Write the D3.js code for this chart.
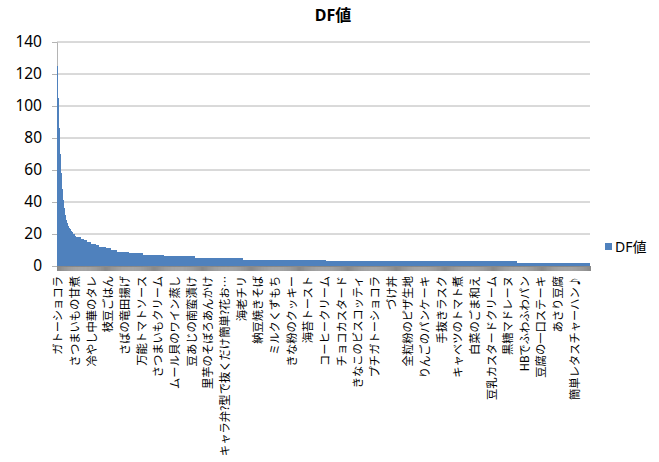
<!DOCTYPE html>
<html>
<head>
<meta charset="utf-8">
<script src="https://cdn.jsdelivr.net/npm/d3@7"></script>
<style>
  body { margin: 0; background: #fff; }
  #main { width: 659px; height: 462px; }
  text { font-family: "Noto Sans", "Noto Sans CJK JP", sans-serif; }
  .xlab text { font-family: "Noto Sans CJK JP", sans-serif; }
</style>
</head>
<body>
<div id="main"></div>
<script>
"use strict";

// DF values, sorted descending, as runs of equal value (level, number of recipes)
var dfLevels = [125, 105, 86, 70, 58, 48, 41, 36, 32, 29, 27, 25, 24, 23, 22, 21, 20, 19,
                18, 17, 16, 15, 14, 13, 12, 11, 10, 9, 8, 7, 6, 5, 4, 3, 2];
var dfCounts = [1, 1, 1, 1, 1, 1, 1, 1, 1, 1, 1, 1, 1, 1, 1, 1, 2, 1,
                5, 3, 3, 4, 5, 3, 8, 5, 6, 12, 14, 22, 31, 49, 85, 195, 75];

// category labels shown on the x axis (one every labelStep recipes)
var labelStep = 17;
var xLabels = ["ガトーショコラ", "さつまいもの甘煮", "冷やし中華のタレ", "枝豆ごはん",
    "さばの竜田揚げ", "万能トマトソース", "さつまいもクリーム", "ムール貝のワイン蒸し",
    "豆あじの南蛮漬け", "里芋のそぼろあんかけ", "キャラ弁?型で抜くだけ簡単?花お…", "海老チリ",
    "納豆焼きそば", "ミルクくずもち", "きな粉のクッキー", "海苔トースト",
    "コーヒークリーム", "チョコカスタード", "きなこのビスコッティ", "プチガトーショコラ",
    "づけ丼", "全粒粉のピザ生地", "りんごのパンケーキ", "手抜きラスク",
    "キャベツのトマト煮", "白菜のごま和え", "豆乳カスタードクリーム", "黒糖マドレーヌ",
    "HBでふわふわパン", "豆腐の一口ステーキ", "あさり豆腐", "簡単レタスチャーハン♪"];
var yTicks = [0, 20, 40, 60, 80, 100, 120, 140];
var seriesName = "DF値";

var runStarts = [0].concat(Array.from(d3.cumsum(dfCounts)));
var runs = dfLevels.map(function(v, i){
    return {value: v, start: runStarts[i], count: dfCounts[i]};
});
var total = runStarts[runStarts.length - 1];

var width = 659, height = 462;
var svg = d3.select("#main").append("svg")
    .attr("width", width).attr("height", height);

var x = d3.scaleLinear().domain([0, total]).range([57, 590]);
var y = d3.scaleLinear().domain([0, 140]).range([266, 42]);

// title
svg.append("text")
    .attr("x", 333).attr("y", 21)
    .attr("text-anchor", "middle")
    .style("font-size", "16px").style("font-weight", "bold")
    .text(seriesName);

// gridlines
svg.append("g").selectAll("line").data(yTicks.slice(1)).join("line")
    .attr("x1", x(0)).attr("x2", x(total))
    .attr("y1", function(d){ return y(d); }).attr("y2", function(d){ return y(d); })
    .attr("stroke", "#b4b4b4").attr("stroke-width", 1);

// y axis
var yAxis = svg.append("g")
    .attr("transform", "translate(" + x(0) + ",0)")
    .call(d3.axisLeft(y).tickValues(yTicks).tickSize(5).tickPadding(10));
yAxis.select(".domain").attr("stroke", "#b4b4b4");
yAxis.selectAll(".tick line").attr("stroke", "#b4b4b4");
yAxis.selectAll(".tick text").style("font-size", "15.5px").attr("fill", "#000")
    .style("font-family", "'Noto Sans', sans-serif");

// bars
svg.append("g").attr("shape-rendering", "crispEdges")
    .selectAll("rect").data(runs).join("rect")
    .attr("x", function(d){ return x(d.start); })
    .attr("width", function(d){ return x(d.start + d.count) - x(d.start) + 0.4; })
    .attr("y", function(d){ return y(d.value); })
    .attr("height", function(d){ return y(0) - y(d.value); })
    .attr("fill", "#4f81bd");

// x axis: a tick for every recipe, merging into a band
var xAxis = svg.append("g")
    .attr("transform", "translate(0," + y(0) + ")")
    .call(d3.axisBottom(x).tickValues(d3.range(total + 1)).tickSize(5).tickFormat(""));
xAxis.select(".domain").attr("stroke", "#898989");
xAxis.selectAll(".tick line").attr("stroke", "#898989");

// x labels
svg.append("g").attr("class", "xlab").selectAll("text").data(xLabels).join("text")
    .attr("transform", function(d, i){
        return "translate(" + (x(i * labelStep + 0.5) + 1) + ",276) rotate(-90)";
    })
    .attr("text-anchor", "end")
    .attr("dy", "0.35em")
    .style("font-size", "11.3px")
    .text(function(d){ return d; });

// legend
var legend = svg.append("g").attr("transform", "translate(605,243)");
legend.append("rect").attr("width", 7).attr("height", 7).attr("fill", "#4f81bd");
legend.append("text").attr("x", 10).attr("y", 8.5)
    .style("font-size", "14px")
    .text(seriesName);
</script>
</body>
</html>
